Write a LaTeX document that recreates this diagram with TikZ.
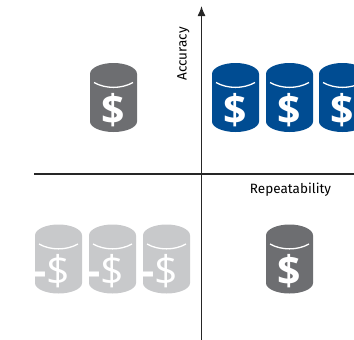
\documentclass[tikz,border=0pt]{standalone}
\usepackage{fontspec}
\setmainfont{Fira Sans}
\newfontfamily\signfont{Open Sans}
\usetikzlibrary{arrows.meta}
\definecolor{drumgray}{RGB}{109,110,113}
\definecolor{drumblue}{RGB}{0,76,146}
\definecolor{drumlight}{RGB}{200,201,203}
\tikzset{
	axis/.style={line width=1.3pt,color=black!85},
	axislabel/.style={inner sep=0,outer sep=0,font=\fontsize{13.5}{13.5}\selectfont},
	drumsign/.style={inner sep=0,outer sep=0,text=white,font=\signfont\fontsize{41}{41}\selectfont\bfseries},
	drumsmile/.style={draw=white,line width=1.3pt},
	pics/drum/.style 2 args={code={
		\fill[#1] (-23.5,-23.5) arc[start angle=180,end angle=360,x radius=23.5,y radius=11]
			-- (23.5,24) arc[start angle=0,end angle=180,x radius=23.5,y radius=10.5] -- cycle;
		\node[drumsign] (-sign) at (0,12.5) {#2};
		\draw[drumsmile] (-19.5,-15) .. controls (-8,-8.5) and (8,-8.5) .. (19.5,-15);
	}}
}
\begin{document}
\begin{tikzpicture}[x=1pt,y=-1pt]
	\clip (0,0) rectangle (354,340);
	% top left
	\pic (a1) at (113.5,97.5) {drum={drumgray}{\$}};
	% top right
	\pic (b1) at (235.5,97.5) {drum={drumblue}{\$}};
	\pic (b2) at (289.5,97.5) {drum={drumblue}{\$}};
	\pic (b3) at (342.5,97.5) {drum={drumblue}{\$}};
	% bottom left
	\pic (c1) at (58.5,259) {drum={drumlight}{\llap{-}\mdseries\$}};
	\pic (c2) at (112.5,259) {drum={drumlight}{\llap{-}\mdseries\$}};
	\pic (c3) at (166.5,259) {drum={drumlight}{\llap{-}\mdseries\$}};
	% bottom right
	\pic (d1) at (289.5,259) {drum={drumgray}{\$}};
	% axes
	\coordinate (ytop) at (201.5,6);
	\coordinate (ybot) at (201.5,340);
	\coordinate (xleft) at (34,174);
	\coordinate (xright) at (354,174);
	\draw[axis,-{Latex[length=10pt,width=8pt]}] (ybot) -- (ytop);
	\draw[axis] (xleft) -- (xright);
	\node[axislabel,rotate=90] (accuracy) at (183.5,54) {Accuracy};
	\node[axislabel] (repeat) at (290.5,190) {Repeatability};
\end{tikzpicture}
\end{document}
